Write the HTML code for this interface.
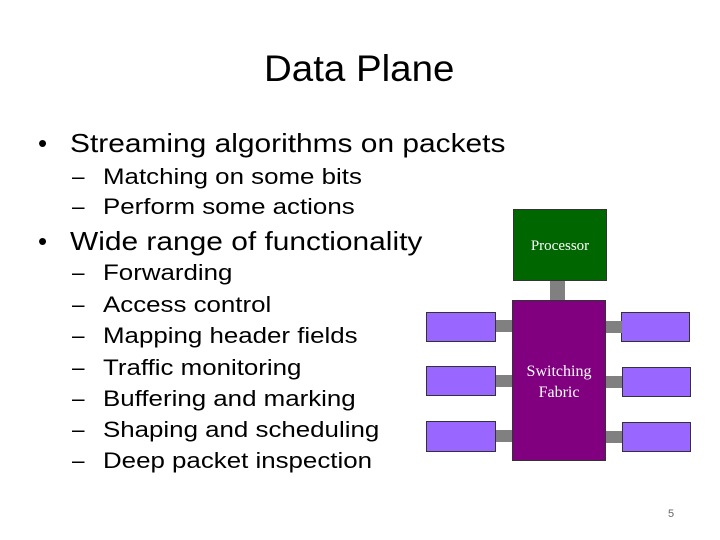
<!DOCTYPE html>
<html><head><style>
body{margin:0;width:720px;height:540px;background:#fff;position:relative;overflow:hidden;font-family:"Liberation Sans",Arial,sans-serif;color:#000}
.t{position:absolute;white-space:nowrap;line-height:1}
.x{transform:scaleX(1.15);transform-origin:0 0}
.b{font-size:26px}
.s{font-size:22.5px}
.box{position:absolute;box-sizing:border-box;border:1px solid #333}
.g{position:absolute;background:#808080}
.io{background:#9966ff}
</style></head><body>
<div class="t" style="left:264px;top:50px;font-size:37px;transform:scaleX(1.04);transform-origin:0 0">Data Plane</div>
<div class="t b" style="left:38px;top:130px;">•</div>
<div class="t b x" style="left:70px;top:130px;">Streaming algorithms on packets</div>
<div class="t s" style="left:72px;top:166px;">–</div><div class="t s x" style="left:103px;top:166px;">Matching on some bits</div>
<div class="t s" style="left:72px;top:196px;">–</div><div class="t s x" style="left:103px;top:196px;">Perform some actions</div>
<div class="t b" style="left:38px;top:228px;">•</div>
<div class="t b x" style="left:70px;top:228px;">Wide range of functionality</div>
<div class="t s" style="left:72px;top:262px;">–</div><div class="t s x" style="left:103px;top:262px;">Forwarding</div>
<div class="t s" style="left:72px;top:294px;">–</div><div class="t s x" style="left:103px;top:294px;">Access control</div>
<div class="t s" style="left:72px;top:325px;">–</div><div class="t s x" style="left:103px;top:325px;">Mapping header fields</div>
<div class="t s" style="left:72px;top:357px;">–</div><div class="t s x" style="left:103px;top:357px;">Traffic monitoring</div>
<div class="t s" style="left:72px;top:388px;">–</div><div class="t s x" style="left:103px;top:388px;">Buffering and marking</div>
<div class="t s" style="left:72px;top:419px;">–</div><div class="t s x" style="left:103px;top:419px;">Shaping and scheduling</div>
<div class="t s" style="left:72px;top:450px;">–</div><div class="t s x" style="left:103px;top:450px;">Deep packet inspection</div>

<div class="box" style="left:513px;top:209px;width:94px;height:72px;background:#006600;"></div>
<div class="t" style="left:513px;top:239px;width:94px;text-align:center;color:#fff;font-family:'Liberation Serif',serif;font-size:15px;">Processor</div>
<div class="g" style="left:550px;top:281px;width:15px;height:19px;"></div>
<div class="box" style="left:512px;top:300px;width:94px;height:161px;background:#800080;"></div>
<div class="t" style="left:512px;top:361px;width:94px;text-align:center;color:#fff;font-family:'Liberation Serif',serif;font-size:16px;line-height:21px;">Switching<br>Fabric</div>

<div class="box io" style="left:426px;top:312px;width:70px;height:30px;"></div>
<div class="box io" style="left:426px;top:366px;width:70px;height:30px;"></div>
<div class="box io" style="left:426px;top:421px;width:70px;height:31px;"></div>
<div class="g" style="left:496px;top:320px;width:16px;height:12px;"></div>
<div class="g" style="left:496px;top:375px;width:16px;height:12px;"></div>
<div class="g" style="left:496px;top:430px;width:16px;height:12px;"></div>

<div class="box io" style="left:621px;top:312px;width:69px;height:30px;"></div>
<div class="box io" style="left:622px;top:367px;width:69px;height:30px;"></div>
<div class="box io" style="left:622px;top:422px;width:69px;height:30px;"></div>
<div class="g" style="left:606px;top:321px;width:16px;height:12px;"></div>
<div class="g" style="left:606px;top:376px;width:16px;height:12px;"></div>
<div class="g" style="left:606px;top:431px;width:16px;height:12px;"></div>

<div class="t" style="left:668px;top:509px;font-size:11px;color:#666;">5</div>
</body></html>
